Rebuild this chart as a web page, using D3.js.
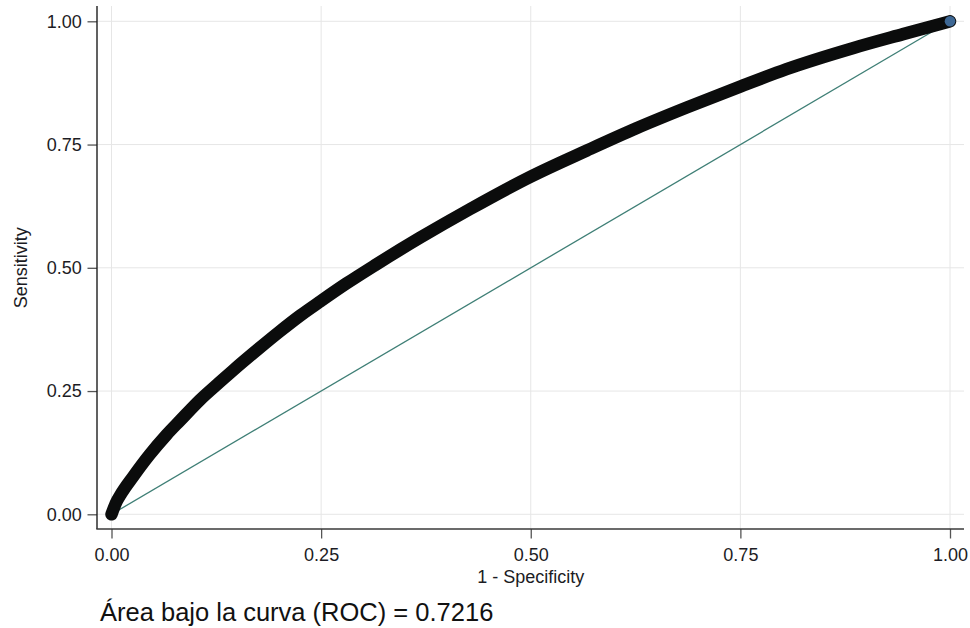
<!DOCTYPE html>
<html>
<head>
<meta charset="utf-8">
<script src="https://cdn.jsdelivr.net/npm/d3@7"></script>
<style>
  html, body { margin: 0; padding: 0; background: #ffffff; }
  svg { display: block; }
  text { font-family: "Liberation Sans", Arial, sans-serif; }
</style>
</head>
<body>
<svg id="chart" width="970" height="628"></svg>
<script>
// ---- Data ----
const fpr = [0, 0.005, 0.012, 0.026, 0.045, 0.066, 0.0817, 0.1055, 0.129, 0.145, 0.177, 0.2, 0.225, 0.25, 0.28, 0.314, 0.368, 0.4275, 0.5, 0.567, 0.626, 0.686, 0.749, 0.805, 0.885, 0.944, 1];
const sensitivity = [0, 0.022, 0.043, 0.077, 0.12, 0.162, 0.19, 0.232, 0.268, 0.292, 0.338, 0.37, 0.403, 0.433, 0.468, 0.505, 0.561, 0.619, 0.685, 0.738, 0.783, 0.825, 0.867, 0.903, 0.946, 0.974, 1];
const refLine = [[0, 0], [1, 1]];
const endPoint = [1, 1];
const xTicks = [0, 0.25, 0.5, 0.75, 1];
const yTicks = [0, 0.25, 0.5, 0.75, 1];
const xTitle = "1 - Specificity";
const yTitle = "Sensitivity";
const aucNote = "Área bajo la curva (ROC) = 0.7216";

// ---- Layout ----
const plot = { left: 97, right: 964, top: 6, bottom: 529 };
const svg = d3.select("#chart");

const x = d3.scaleLinear().domain([0, 1]).range([111.5, 950]);
const y = d3.scaleLinear().domain([0, 1]).range([514.3, 21.3]);

// gridlines
const grid = svg.append("g");
grid.selectAll("line.gx").data(xTicks).join("line")
  .attr("x1", d => x(d)).attr("x2", d => x(d))
  .attr("y1", plot.top).attr("y2", plot.bottom)
  .attr("stroke", "#e6e6e6").attr("stroke-width", 1);
grid.selectAll("line.gy").data(yTicks).join("line")
  .attr("x1", plot.left).attr("x2", plot.right)
  .attr("y1", d => y(d)).attr("y2", d => y(d))
  .attr("stroke", "#e6e6e6").attr("stroke-width", 1);

// reference diagonal
svg.append("path")
  .datum(refLine)
  .attr("d", d3.line().x(d => x(d[0])).y(d => y(d[1])))
  .attr("fill", "none")
  .attr("stroke", "#3f7f76")
  .attr("stroke-width", 1.3);

// ROC curve (thick marker band)
const pts = fpr.map((f, i) => [f, sensitivity[i]]);
svg.append("path")
  .datum(pts)
  .attr("d", d3.line().x(d => x(d[0])).y(d => y(d[1])).curve(d3.curveMonotoneX))
  .attr("fill", "none")
  .attr("stroke", "#0b0c0c")
  .attr("stroke-width", 12.5)
  .attr("stroke-linecap", "round")
  .attr("stroke-linejoin", "round");

// end marker
svg.append("circle")
  .attr("cx", x(endPoint[0])).attr("cy", y(endPoint[1]))
  .attr("r", 5.3)
  .attr("fill", "#3d6794");

// axes
const yAxis = d3.axisLeft(y).tickValues(yTicks).tickFormat(d3.format(".2f"))
  .tickSize(9.5).tickPadding(5.8);
const gy = svg.append("g").attr("transform", `translate(${plot.left},0)`).call(yAxis);
gy.select(".domain").remove();

const xAxis = d3.axisBottom(x).tickValues(xTicks).tickFormat(d3.format(".2f"))
  .tickSize(9.5).tickPadding(9.5);
const gx = svg.append("g").attr("transform", `translate(0,${plot.bottom})`).call(xAxis);
gx.select(".domain").remove();

[gx, gy].forEach(g => {
  g.selectAll(".tick line").attr("stroke", "#555").attr("stroke-width", 1.3);
  g.selectAll(".tick text")
    .attr("fill", "#1c1c24")
    .style("font-size", "18px")
    .style("font-family", "'Liberation Sans', Arial, sans-serif");
});

// axis lines
svg.append("line")
  .attr("x1", plot.left).attr("x2", plot.left)
  .attr("y1", plot.top).attr("y2", plot.bottom)
  .attr("stroke", "#1e1e1e").attr("stroke-width", 1.4);
svg.append("line")
  .attr("x1", plot.left - 0.7).attr("x2", plot.right)
  .attr("y1", plot.bottom).attr("y2", plot.bottom)
  .attr("stroke", "#3a3a3a").attr("stroke-width", 1.6);

// titles
svg.append("text")
  .attr("x", (x(0) + x(1)) / 2).attr("y", 583)
  .attr("text-anchor", "middle")
  .attr("fill", "#1c1c24")
  .style("font-size", "18px")
  .text(xTitle);

svg.append("text")
  .attr("transform", `translate(27,${(y(0) + y(1)) / 2}) rotate(-90)`)
  .attr("text-anchor", "middle")
  .attr("fill", "#1c1c24")
  .style("font-size", "18px")
  .text(yTitle);

svg.append("text")
  .attr("x", 100).attr("y", 621)
  .attr("fill", "#111111")
  .style("font-size", "25.5px")
  .text(aucNote);
</script>
</body>
</html>
